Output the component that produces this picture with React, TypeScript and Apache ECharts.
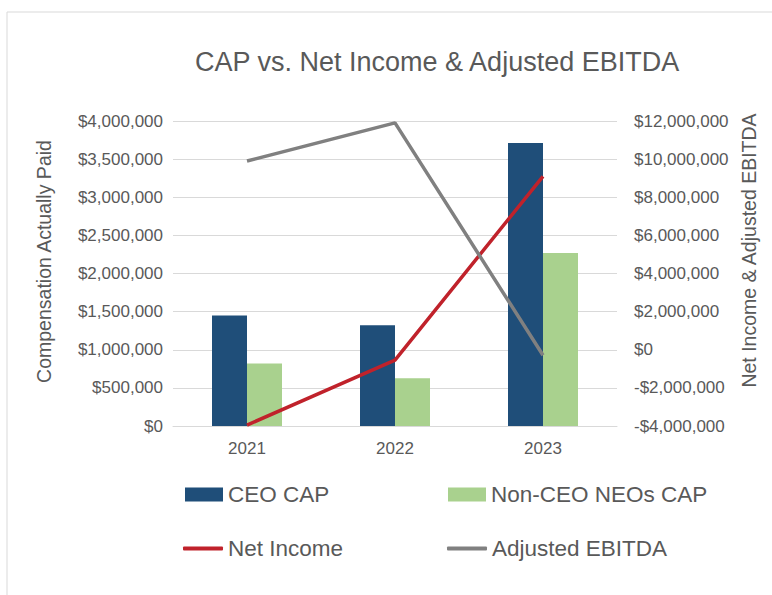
import React, { useEffect, useRef } from "react";
import * as echarts from "echarts";

const years = ["2021", "2022", "2023"];
const ceoCap = [1450000, 1320000, 3710000];
const neoCap = [820000, 625000, 2270000];
const netIncome = [-3950000, -540000, 9100000];
const adjEbitda = [9900000, 11900000, -290000];

const FONT = "'Liberation Sans', Arial, sans-serif";
const TXT = "#595959";

const fmt = (v: number) => {
  const s = Math.abs(v).toLocaleString("en-US");
  return (v < 0 ? "-$" : "$") + s;
};

export default function App() {
  const ref = useRef<HTMLDivElement>(null);
  useEffect(() => {
    if (!ref.current) return;
    const chart = echarts.init(ref.current, undefined, { renderer: "svg" });
    chart.setOption({
      animation: false,
      backgroundColor: "#ffffff",
      textStyle: { fontFamily: FONT },
      title: {
        text: "CAP vs. Net Income & Adjusted EBITDA",
        left: 195,
        top: 48,
        padding: 0,
        textStyle: { fontFamily: FONT, fontSize: 27, fontWeight: "normal", color: TXT },
      },
      graphic: [
        {
          type: "rect",
          shape: { x: 7, y: 12, width: 800, height: 620 },
          style: { fill: "none", stroke: "#D9D9D9", lineWidth: 1 },
          silent: true,
        },
      ],
      grid: { left: 173, right: 155, top: 121, bottom: 169, containLabel: false },
      legend: [
        {
          data: ["CEO CAP"], left: 185, top: 483, padding: 0, icon: "rect",
          itemWidth: 38, itemHeight: 14,
          textStyle: { fontFamily: FONT, fontSize: 22.5, color: TXT },
        },
        {
          data: ["Non-CEO NEOs CAP"], left: 448, top: 483, padding: 0, icon: "rect",
          itemWidth: 38, itemHeight: 14,
          textStyle: { fontFamily: FONT, fontSize: 22.5, color: TXT },
        },
        {
          data: ["Net Income"], left: 183, top: 537, padding: 0, icon: "roundRect",
          itemWidth: 40, itemHeight: 4,
          textStyle: { fontFamily: FONT, fontSize: 22.5, color: TXT },
        },
        {
          data: ["Adjusted EBITDA"], left: 447, top: 537, padding: 0, icon: "roundRect",
          itemWidth: 40, itemHeight: 4,
          textStyle: { fontFamily: FONT, fontSize: 22.5, color: TXT },
        },
      ],
      xAxis: {
        type: "category",
        data: years,
        axisLine: { lineStyle: { color: "#D9D9D9", width: 1 } },
        axisTick: { show: false },
        axisLabel: { fontFamily: FONT, fontSize: 17, color: TXT, margin: 14 },
      },
      yAxis: [
        {
          type: "value",
          min: 0,
          max: 4000000,
          interval: 500000,
          name: "Compensation Actually Paid",
          nameLocation: "middle",
          nameRotate: 90,
          nameGap: 119,
          nameTextStyle: { fontFamily: FONT, fontSize: 19.5, color: TXT, padding: [0, 0, 0, 24] },
          axisLine: { show: false },
          axisTick: { show: false },
          splitLine: { lineStyle: { color: "#D9D9D9", width: 1 } },
          axisLabel: { fontFamily: FONT, fontSize: 17, color: TXT, margin: 10, formatter: fmt },
        },
        {
          type: "value",
          min: -4000000,
          max: 12000000,
          interval: 2000000,
          position: "right",
          name: "Net Income & Adjusted EBITDA",
          nameLocation: "middle",
          nameRotate: 90,
          nameGap: 122,
          nameTextStyle: { fontFamily: FONT, fontSize: 19.5, color: TXT, padding: [0, 0, 0, 46] },
          axisLine: { show: false },
          axisTick: { show: false },
          splitLine: { show: false },
          axisLabel: { fontFamily: FONT, fontSize: 17, color: TXT, margin: 17, formatter: fmt },
        },
      ],
      series: [
        {
          name: "CEO CAP",
          type: "bar",
          data: ceoCap,
          barWidth: 35,
          barGap: "0%",
          itemStyle: { color: "#1F4E79" },
        },
        {
          name: "Non-CEO NEOs CAP",
          type: "bar",
          data: neoCap,
          barWidth: 35,
          barGap: "0%",
          itemStyle: { color: "#A9D18E" },
        },
        {
          name: "Net Income",
          type: "line",
          yAxisIndex: 1,
          data: netIncome,
          symbol: "none",
          lineStyle: { color: "#C0222B", width: 3.5 },
          itemStyle: { color: "#C0222B" },
        },
        {
          name: "Adjusted EBITDA",
          type: "line",
          yAxisIndex: 1,
          data: adjEbitda,
          symbol: "none",
          lineStyle: { color: "#808080", width: 3.5 },
          itemStyle: { color: "#808080" },
        },
      ],
    });
    return () => chart.dispose();
  }, []);
  return (
    <div
      ref={ref}
      style={{ position: "absolute", left: 0, top: 0, width: 772, height: 595 }}
    />
  );
}
